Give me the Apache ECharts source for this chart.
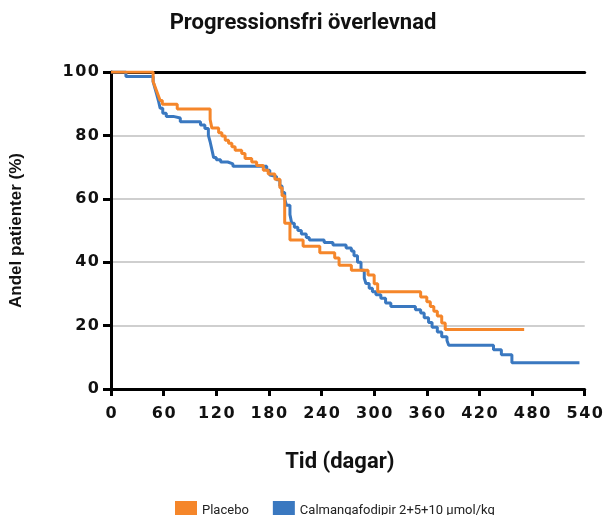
<!DOCTYPE html>
<html>
<head>
<meta charset="utf-8">
<script src="https://cdn.jsdelivr.net/npm/echarts@6/dist/echarts.min.js"></script>
<style>
  html, body { margin: 0; padding: 0; background: #fff; }
  #main { width: 606px; height: 515px; }
</style>
</head>
<body>
<div id="main"></div>
<script>
// tick labels
var xTicks = [0, 60, 120, 180, 240, 300, 360, 420, 480, 540];
var yTicks = [0, 20, 40, 60, 80, 100];

// Placebo: day where the step starts, survival (%) from that day on
var placeboDays = [0, 48, 50, 52, 54, 56, 58.5, 75.5, 113, 115, 122.7, 126.4, 130.2, 134, 137.8, 141.5, 149, 152.8, 160.4, 166, 173.6, 179.2, 186.8, 192.5, 195, 198, 204, 219, 238, 255, 260, 274, 293, 300, 304, 353, 360, 364, 368, 372, 377, 381, 471];
var placeboSurv = [100, 97, 95.5, 94, 92.5, 91, 89.8, 88.3, 85, 82.3, 80.8, 79.8, 78.5, 77.5, 76.4, 75.3, 74.3, 72.7, 71.6, 70.5, 69, 67.8, 66.2, 63.5, 61, 52.3, 47, 45, 43, 41.3, 39, 37.5, 36, 33.2, 30.7, 29, 27.5, 26, 24.5, 23, 20.8, 18.8, 18.8];

// Calmangafodipir 2+5+10 µmol/kg
var calDays = [0, 17, 48, 50, 52, 54, 56, 59, 63, 71, 79, 102, 107, 111, 113, 115, 117, 120, 125, 133, 139, 177.5, 181, 183, 188.7, 192.5, 195, 198, 200, 204, 206, 209, 213, 217, 222.6, 226, 243, 253, 268, 274, 277, 281, 285, 288.7, 290.6, 294.3, 298, 302, 307.6, 313, 319, 347, 353, 357, 362, 366, 372, 377, 383, 385, 436, 445, 457, 534];
var calSurv = [100, 98.6, 97, 95, 93, 91, 88.6, 87, 86, 85.5, 84.3, 83.3, 82.2, 80, 78, 75.5, 73, 72.3, 71.6, 71, 70.3, 69, 67.5, 67, 66, 64, 62, 60, 58, 55, 52.3, 51, 50, 48.9, 47.8, 47, 46.2, 45.4, 44.5, 43.5, 42, 40, 37.5, 35, 33.3, 31.8, 30.7, 29.7, 28.6, 27.1, 26, 25, 24, 22.5, 21, 19.5, 18, 16.5, 15.3, 13.8, 12.4, 10.8, 8.3, 8.3];

var seriesNames = ['Placebo', 'Calmangafodipir 2+5+10 \u00b5mol/kg'];
var seriesColors = ['#f5862a', '#3a78c0'];

function pairs(days, surv) {
    var out = [];
    for (var i = 0; i < days.length; i++) {
        out.push([days[i], surv[i]]);
    }
    return out;
}

// wide, spaced-out digits like the original
function spaced(v) {
    return String(v).split('').join('\u200a');
}

var tickFont = {
    color: '#111',
    fontFamily: 'DejaVu Sans',
    fontWeight: 'bold',
    fontSize: 16,
    formatter: spaced
};

var chart = echarts.init(document.getElementById('main'), null, {renderer: 'canvas'});
var option = {
    animation: false,
    backgroundColor: '#fff',
    title: {
        text: 'Progressionsfri \u00f6verlevnad',
        left: 'center',
        top: 7,
        textStyle: {
            fontFamily: 'Roboto',
            fontWeight: 'bold',
            fontSize: 22,
            color: '#111'
        }
    },
    legend: {
        data: [seriesNames[0], seriesNames[1]],
        top: 496,
        left: 170,
        icon: 'rect',
        itemWidth: 22,
        itemHeight: 20,
        itemGap: 24,
        textStyle: {
            fontFamily: 'Roboto',
            fontSize: 13,
            color: '#222'
        }
    },
    grid: {
        left: 110,
        right: 19,
        top: 72,
        bottom: 126
    },
    xAxis: [{
        type: 'value',
        min: xTicks[0],
        max: xTicks[xTicks.length - 1],
        interval: 60,
        name: 'Tid (dagar)',
        nameLocation: 'middle',
        nameGap: 62,
        nameTextStyle: {
            fontFamily: 'Roboto',
            fontWeight: 'bold',
            fontSize: 22,
            color: '#111',
            padding: [0, 16, 0, 0]
        },
        axisLine: {lineStyle: {color: '#000', width: 3}},
        axisTick: {length: 7, lineStyle: {color: '#000', width: 3}},
        axisLabel: Object.assign({margin: 17, showMaxLabel: true}, tickFont),
        splitLine: {show: false}
    }, {
        // black frame line at 100 %
        type: 'value',
        position: 'top',
        min: xTicks[0],
        max: xTicks[xTicks.length - 1],
        interval: 60,
        axisLine: {show: true, lineStyle: {color: '#000', width: 3}},
        axisTick: {show: false},
        axisLabel: {show: false},
        splitLine: {show: false}
    }],
    yAxis: {
        type: 'value',
        min: yTicks[0],
        max: yTicks[yTicks.length - 1],
        interval: 20,
        name: 'Andel patienter (%)',
        nameLocation: 'middle',
        nameGap: 86,
        nameTextStyle: {
            fontFamily: 'Liberation Sans',
            fontWeight: 'bold',
            fontSize: 17,
            color: '#111'
        },
        axisLine: {show: true, lineStyle: {color: '#000', width: 3}},
        axisTick: {show: true, length: 8, lineStyle: {color: '#000', width: 3}},
        axisLabel: Object.assign({margin: 12}, tickFont),
        splitLine: {lineStyle: {color: '#cfcfcf', width: 2}}
    },
    series: [
        {
            name: seriesNames[1],
            type: 'line',
            step: 'end',
            showSymbol: false,
            data: pairs(calDays, calSurv),
            lineStyle: {color: seriesColors[1], width: 3},
            itemStyle: {color: seriesColors[1]},
            z: 2
        },
        {
            name: seriesNames[0],
            type: 'line',
            step: 'end',
            showSymbol: false,
            data: pairs(placeboDays, placeboSurv),
            lineStyle: {color: seriesColors[0], width: 3},
            itemStyle: {color: seriesColors[0]},
            z: 3
        }
    ]
};
chart.setOption(option);
</script>
</body>
</html>
